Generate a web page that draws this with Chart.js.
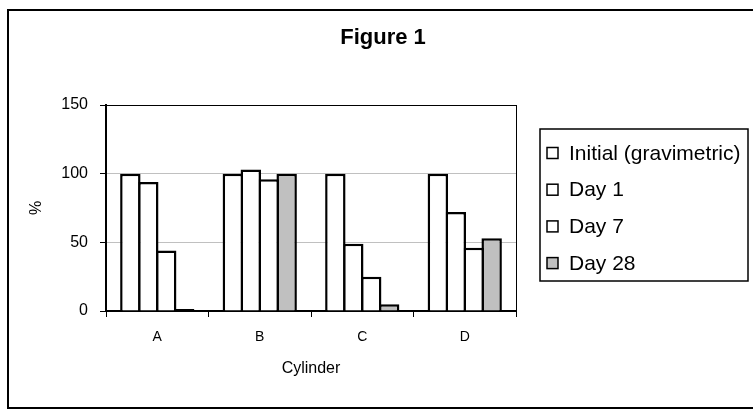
<!DOCTYPE html>
<html>
<head>
<meta charset="utf-8">
<script src="https://cdn.jsdelivr.net/npm/chart.js@4/dist/chart.umd.min.js"></script>
<style>
  body { margin: 0; background: #fff; }
</style>
</head>
<body>
<canvas id="figChart" width="753" height="410"></canvas>
<script>
// data
const cylinders = ['A', 'B', 'C', 'D'];
const seriesNames = ['Initial (gravimetric)', 'Day 1', 'Day 7', 'Day 28'];
const initialVals = [100, 100, 100, 100];
const day1Vals = [94, 103, 49, 72];
const day7Vals = [44, 96, 25, 46];
const day28Vals = [1.5, 100, 5, 53];
const yTicks = [0, 50, 100, 150];

const fills = ['#ffffff', '#ffffff', '#ffffff', '#c0c0c0'];

Chart.defaults.font.family = "'Liberation Sans', Arial, sans-serif";
Chart.defaults.color = '#000';

// frame round the whole figure + boxed legend (Excel style)
const frameAndLegend = {
  id: 'frameAndLegend',
  afterDraw(chart) {
    const ctx = chart.ctx;
    ctx.save();
    ctx.strokeStyle = '#000';
    ctx.lineWidth = 2;
    ctx.strokeRect(8, 10, 800, 398);

    // legend box
    ctx.lineWidth = 1.5;
    ctx.strokeRect(540, 129, 208, 152);
    ctx.font = "21px 'Liberation Sans', Arial, sans-serif";
    ctx.textBaseline = 'middle';
    ctx.textAlign = 'left';
    chart.data.datasets.forEach((ds, i) => {
      const cy = 153 + i * 36.7;
      ctx.fillStyle = ds.backgroundColor;
      ctx.fillRect(547, cy - 5.5, 11, 11);
      ctx.lineWidth = 1.5;
      ctx.strokeRect(547, cy - 5.5, 11, 11);
      ctx.fillStyle = '#000';
      ctx.fillText(ds.label, 569, cy + 1);
    });
    ctx.restore();
  }
};

const allVals = [initialVals, day1Vals, day7Vals, day28Vals];

new Chart(document.getElementById('figChart'), {
  type: 'bar',
  data: {
    labels: cylinders,
    datasets: allVals.map((vals, i) => ({
      label: seriesNames[i],
      data: vals,
      backgroundColor: fills[i],
      borderColor: '#000',
      borderWidth: 2.5,
      // tiny bars come out as a solid black sliver, like the original
      borderSkipped: c => (c.raw < 3 ? false : 'start'),
      barPercentage: 1.139,
      categoryPercentage: 0.70,
      yAxisID: 'y'
    }))
  },
  options: {
    responsive: false,
    animation: false,
    layout: { padding: { left: 13, top: 0, right: 0, bottom: 0 } },
    plugins: {
      legend: { display: false },
      tooltip: { enabled: false },
      title: {
        display: true,
        text: 'Figure 1',
        font: { size: 22, weight: 'bold' },
        color: '#000',
        padding: { top: 25, bottom: 53.6 }
      }
    },
    scales: {
      x: {
        offset: true,
        grid: {
          offset: true,
          drawOnChartArea: false,
          tickLength: 6,
          tickColor: '#000',
          color: '#000'
        },
        border: { color: '#000', width: 2 },
        ticks: { font: { size: 14 }, padding: 12, color: '#000' },
        title: {
          display: true,
          text: 'Cylinder',
          font: { size: 16 },
          color: '#000',
          padding: { top: 4, bottom: 32 }
        },
        afterFit(scale) { scale.height = 99; }
      },
      y: {
        min: 0,
        max: 150,
        afterBuildTicks(scale) { scale.ticks = yTicks.map(v => ({ value: v })); },
        grid: {
          color: c => (c.tick && (c.tick.value === 150 || c.tick.value === 0)) ? '#000' : '#c0c0c0',
          lineWidth: 1,
          tickLength: 6,
          tickColor: '#000'
        },
        border: { color: '#000', width: 2 },
        ticks: { font: { size: 16 }, padding: 12, color: '#000' },
        title: {
          display: true,
          text: '%',
          font: { size: 16 },
          color: '#000',
          padding: { top: 14, bottom: 0 }
        },
        afterFit(scale) { scale.width = 93; }
      },
      // only there to close the plot box on the right and reserve room for the legend
      yRight: {
        position: 'right',
        min: 0,
        max: 150,
        grid: { drawOnChartArea: false, drawTicks: false },
        border: { color: '#000', width: 1 },
        ticks: { display: false },
        afterFit(scale) { scale.width = 237; }
      }
    }
  },
  plugins: [frameAndLegend]
});
</script>
</body>
</html>
